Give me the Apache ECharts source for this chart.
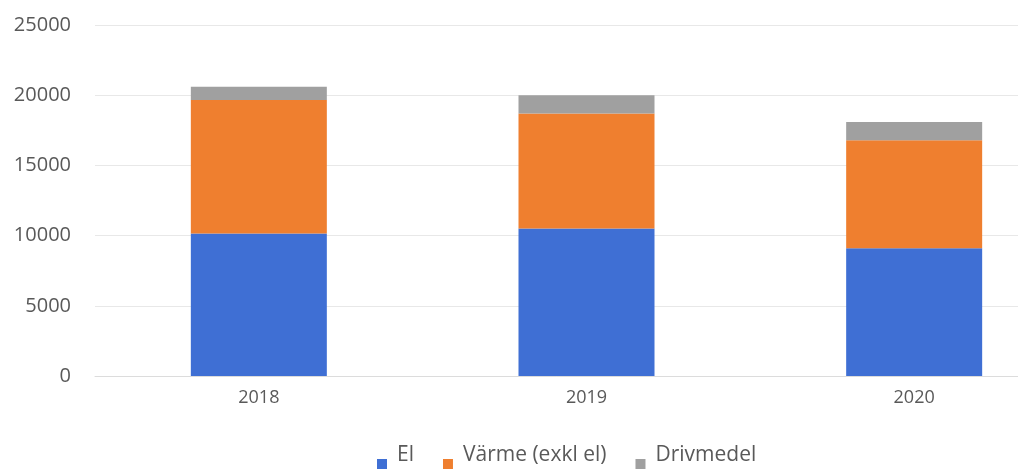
<!DOCTYPE html>
<html>
<head>
<meta charset="utf-8">
<script src="https://cdn.jsdelivr.net/npm/echarts@6/dist/echarts.min.js"></script>
<style>
  html, body { margin: 0; padding: 0; background: #fff; }
  #main { width: 1018px; height: 472px; }
</style>
</head>
<body>
<div id="main"></div>
<script>
// data
const years = ['2018', '2019', '2020']
const el = [10150, 10500, 9100]
const varme = [9500, 8200, 7700]
const drivmedel = [950, 1300, 1300]
const yTicks = [0, 5000, 10000, 15000, 20000, 25000]

const myChart = echarts.init(document.getElementById('main'))

const font = 'Open Sans'

let option = {
    backgroundColor: '#fff',
    animation: false,
    grid: {
        left: 95,
        width: 983,
        top: 25,
        bottom: 96,
        outerBoundsMode: 'none',
    },
    legend: {
        left: 372,
        bottom: -2,
        itemWidth: 10,
        itemHeight: 28,
        itemGap: 29,
        // square sits low next to the text, like the original
        icon: 'path://M0,0M0,18L10,18L10,28L0,28Z',
        textStyle: { fontFamily: font, fontSize: 21, color: '#595959', padding: [0, 0, 0, 5] },
        data: ['El', 'Värme (exkl el)', 'Drivmedel'],
    },
    xAxis: {
        type: 'category',
        data: years,
        axisLine: { lineStyle: { color: '#dcdcdc' } },
        axisTick: { show: false },
        axisLabel: { fontFamily: font, fontSize: 18, color: '#595959', margin: 13 },
    },
    yAxis: {
        type: 'value',
        min: yTicks[0],
        max: yTicks[yTicks.length - 1],
        interval: 5000,
        axisLine: { show: false },
        axisTick: { show: false },
        axisLabel: {
            fontFamily: font,
            fontSize: 20,
            color: '#595959',
            margin: 24,
            formatter: (v) => String(v),
        },
        splitLine: { lineStyle: { color: '#e8e8e8' } },
    },
    series: [
        {
            name: 'El',
            type: 'bar',
            stack: 'total',
            barWidth: 136,
            data: el,
            itemStyle: { color: '#3f6fd4' },
        },
        {
            name: 'Värme (exkl el)',
            type: 'bar',
            stack: 'total',
            data: varme,
            itemStyle: { color: '#ef7f2f' },
        },
        {
            name: 'Drivmedel',
            type: 'bar',
            stack: 'total',
            data: drivmedel,
            itemStyle: { color: '#a0a0a0' },
        },
    ],
}
myChart.setOption(option)
</script>
</body>
</html>
